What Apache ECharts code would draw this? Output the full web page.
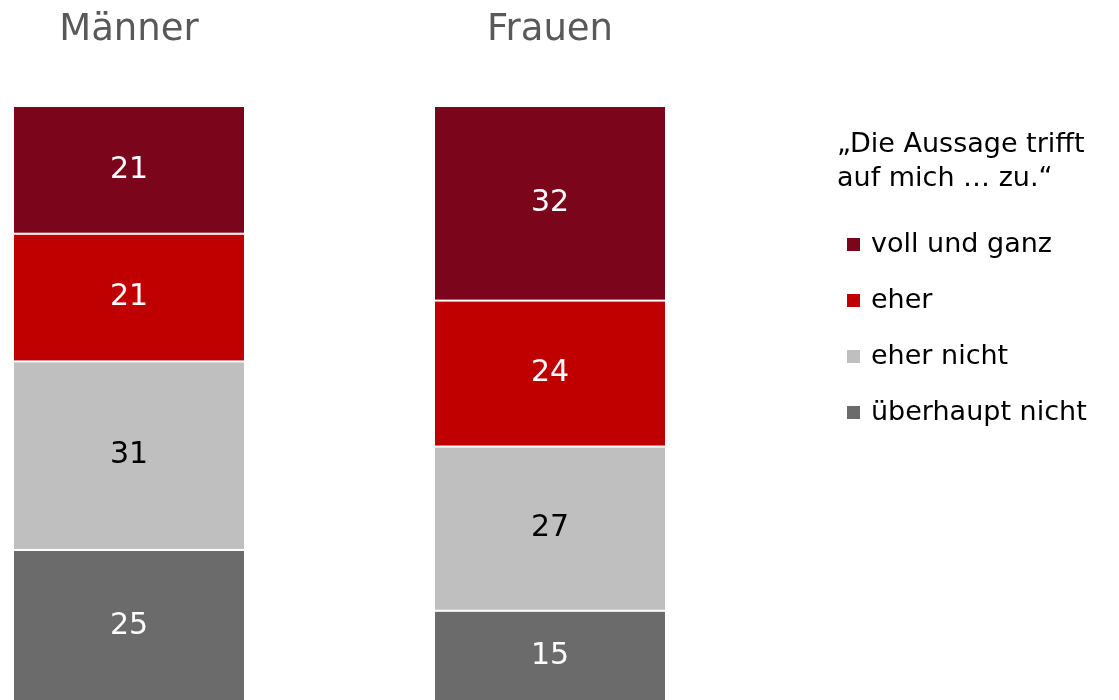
<!DOCTYPE html>
<html>
<head>
<meta charset="utf-8">
<script src="https://cdn.jsdelivr.net/npm/echarts@6/dist/echarts.min.js"></script>
<style>
  html, body { margin: 0; padding: 0; background: #fff; overflow: hidden; }
  #chart { width: 1119px; height: 702px; }
</style>
</head>
<body>
<div id="chart"></div>
<script>
// 数据
const categories = ['Männer', 'Frauen']
const legendOrder = ['voll und ganz', 'eher', 'eher nicht', 'überhaupt nicht']
const ueberhauptNicht = [25, 15]
const eherNicht = [31, 27]
const eher = [21, 24]
const vollUndGanz = [21, 32]

const font = 'DejaVu Sans'

// 每组一个网格，柱子位置
const gridLefts = [13, 434]
const barW = 232

const levels = [
  { name: 'überhaupt nicht', data: ueberhauptNicht, color: '#6b6b6b', labelColor: '#fff' },
  { name: 'eher nicht', data: eherNicht, color: '#bfbfbf', labelColor: '#000' },
  { name: 'eher', data: eher, color: '#c00000', labelColor: '#fff' },
  { name: 'voll und ganz', data: vollUndGanz, color: '#7b061c', labelColor: '#fff' }
]

const grids = []
const xAxes = []
const yAxes = []
const series = []

categories.forEach((cat, i) => {
  grids.push({ left: gridLefts[i], width: barW, top: 106, bottom: 0 })
  xAxes.push({
    gridIndex: i,
    type: 'category',
    position: 'top',
    data: [cat],
    axisLine: { show: false },
    axisTick: { show: false },
    axisLabel: {
      margin: 57,
      fontFamily: font,
      fontSize: 37,
      color: '#595959'
    }
  })
  yAxes.push({ gridIndex: i, type: 'value', min: 0, max: 98, show: false })
  levels.forEach((lv) => {
    series.push({
      name: lv.name,
      type: 'bar',
      xAxisIndex: i,
      yAxisIndex: i,
      stack: 'total' + i,
      barWidth: barW,
      data: [lv.data[i]],
      itemStyle: {
        color: lv.color,
        borderColor: '#fff',
        borderWidth: 1
      },
      label: {
        show: true,
        position: 'inside',
        color: lv.labelColor,
        fontFamily: font,
        fontSize: 30
      }
    })
  })
})

const chart = echarts.init(document.getElementById('chart'))

chart.setOption({
  animation: false,
  color: levels.map((lv) => lv.color),
  title: {
    text: '„Die Aussage trifft\nauf mich … zu.“',
    left: 837,
    top: 128,
    padding: 0,
    textStyle: {
      fontFamily: font,
      fontSize: 27,
      fontWeight: 'normal',
      color: '#000',
      lineHeight: 34
    }
  },
  legend: {
    orient: 'vertical',
    left: 845,
    top: 229,
    padding: 0,
    itemWidth: 15,
    itemHeight: 15,
    itemGap: 25,
    icon: 'rect',
    data: legendOrder,
    textStyle: {
      fontFamily: font,
      fontSize: 27,
      color: '#000',
      lineHeight: 31,
      padding: [0, 0, 0, 5]
    }
  },
  grid: grids,
  xAxis: xAxes,
  yAxis: yAxes,
  series
})
</script>
</body>
</html>
